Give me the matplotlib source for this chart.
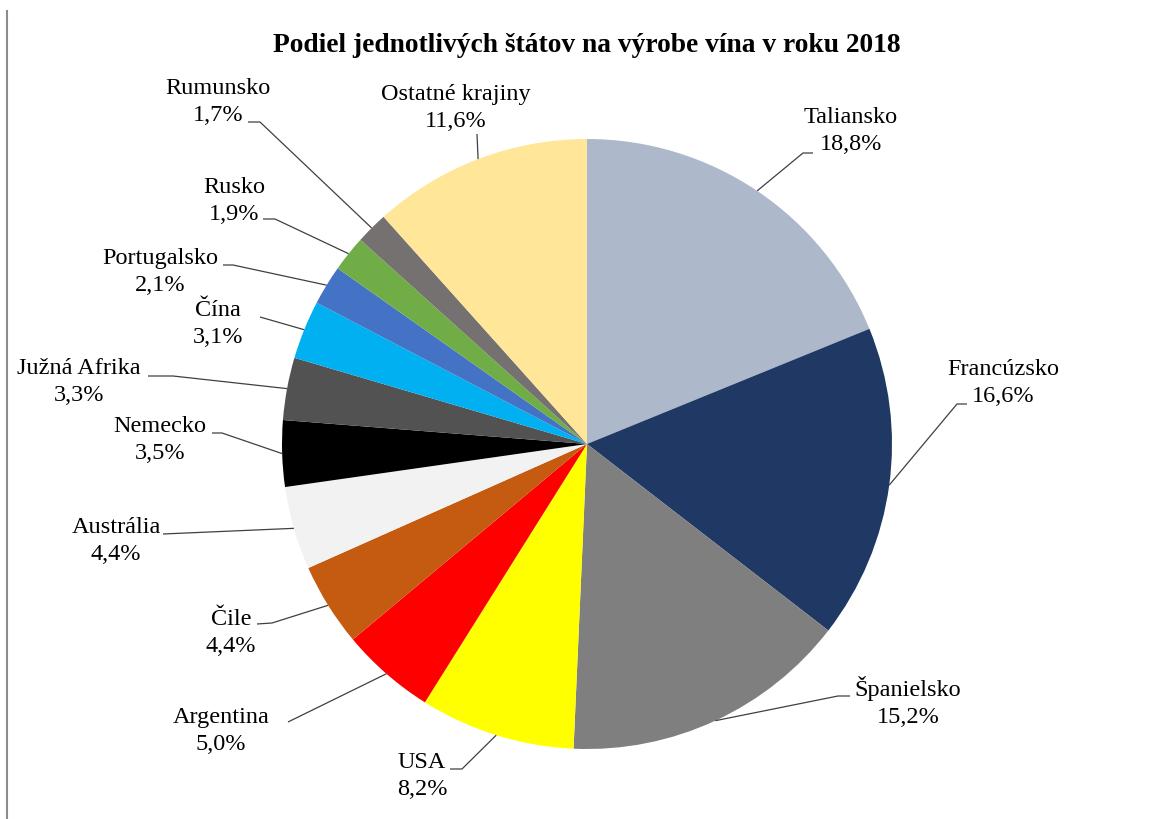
import numpy as np
import matplotlib
matplotlib.use("Agg")
import matplotlib.pyplot as plt
from matplotlib.lines import Line2D

# ---- data ----
countries = ["Taliansko", "Francúzsko", "Španielsko", "USA", "Argentina", "Čile",
             "Austrália", "Nemecko", "Južná Afrika", "Čína", "Portugalsko", "Rusko",
             "Rumunsko", "Ostatné krajiny"]
shares = [18.8, 16.6, 15.2, 8.2, 5.0, 4.4, 4.4, 3.5, 3.3, 3.1, 2.1, 1.9, 1.7, 11.6]
colors = ["#ADB9CA", "#203864", "#7F7F7F", "#FFFF00", "#FF0000", "#C55A11",
          "#F2F2F2", "#000000", "#525252", "#00B0F0", "#4472C4", "#70AD47",
          "#767171", "#FFE699"]
title = "Podiel jednotlivých štátov na výrobe vína v roku 2018"

# ---- layout (pixel coords, y from top) ----
W, H = 1151, 820
CX, CY, R = 587, 445, 305
label_xy = [(851, 131), (1003, 383), (908, 702), (422, 776), (221, 731), (231, 633),
            (116, 541), (160, 440), (79, 382), (218, 324), (160, 272), (234, 201),
            (218, 102), (456, 108)]
leader_pts = [
    [(803, 154), (813, 154)],
    [(957, 405), (967, 405)],
    [(838, 697), (850, 697)],
    [(462, 770), (450, 770)],
    [(288, 723)],
    [(272, 624), (257, 625)],
    [(163, 535)],
    [(222, 434), (212, 434)],
    [(173, 377), (148, 377)],
    [(260, 318)],
    [(233, 266), (223, 266)],
    [(275, 220), (263, 220)],
    [(260, 123), (248, 123)],
    [(477, 135)],
]

plt.rcParams["font.family"] = ["Liberation Serif", "DejaVu Serif"]

fig = plt.figure(figsize=(W / 100, H / 100), dpi=100)
ax = fig.add_axes([0, 0, 1, 1])

wedges, _ = ax.pie(shares, colors=colors, startangle=90, counterclock=False,
                   center=(CX, H - CY), radius=R, wedgeprops=dict(linewidth=0))
ax.set_xlim(0, W)
ax.set_ylim(0, H)
ax.set_aspect("equal")
ax.axis("off")

for w, name, val, (lx, ly), pts in zip(wedges, countries, shares, label_xy, leader_pts):
    mid = np.deg2rad((w.theta1 + w.theta2) / 2)
    x0 = CX + R * np.cos(mid)
    y0 = (H - CY) + R * np.sin(mid)
    xs = [x0] + [p[0] for p in pts]
    ys = [y0] + [H - p[1] for p in pts]
    ax.plot(xs, ys, color="#404040", linewidth=0.9, solid_capstyle="butt")
    txt = f"{name}\n{val:.1f}".replace(".", ",") + "%"
    ax.text(lx, H - ly, txt, ha="center", va="center", multialignment="center",
            fontsize=17.5, linespacing=1.32, color="#000000")

ax.text(CX, H - 46, title, ha="center", va="center", fontsize=19.8,
        fontweight="bold", color="#000000")

# left border line of the original frame
fig.add_artist(Line2D([7.5 / W, 7.5 / W], [0, 1 - 12 / H], transform=fig.transFigure,
                      color="#8C8C8C", linewidth=1.5))

fig.savefig("out.png", dpi=100)
